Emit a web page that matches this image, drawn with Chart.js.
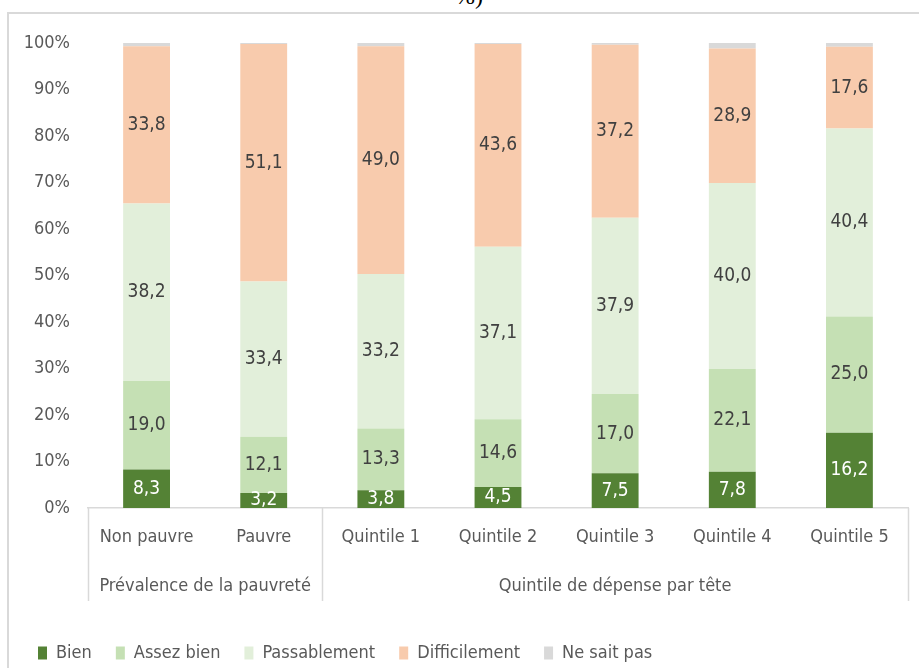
<!DOCTYPE html>
<html>
<head>
<meta charset="utf-8">
<script src="https://cdn.jsdelivr.net/npm/chart.js@4/dist/chart.umd.min.js"></script>
<style>
  html, body { margin: 0; padding: 0; background: #fff; overflow: hidden; }
  #wrap { position: relative; width: 919px; height: 668px; overflow: hidden; }
  #frame { position: absolute; left: 7px; top: 12px; width: 1000px; height: 1000px; border: 2px solid #d9d9d9; box-sizing: border-box; }
  #title { position: absolute; left: 455px; top: -17px; font-family: "Liberation Serif", "Times New Roman", serif; font-size: 24px; color: #000; white-space: nowrap; }
  canvas { position: absolute; left: 0; top: 0; }
</style>
</head>
<body>
<div id="wrap">
  <div id="frame"></div>
  <div id="title">%)</div>
  <canvas id="c" width="919" height="668"></canvas>
</div>
<script>
const categories = ["Non pauvre", "Pauvre", "Quintile 1", "Quintile 2", "Quintile 3", "Quintile 4", "Quintile 5"];
const groupNames = ["Prévalence de la pauvreté", "Quintile de dépense par tête"];
const groupSizes = [2, 5];
const seriesNames = ["Bien", "Assez bien", "Passablement", "Difficilement", "Ne sait pas"];
const bien = [8.3, 3.2, 3.8, 4.5, 7.5, 7.8, 16.2];
const assezBien = [19.0, 12.1, 13.3, 14.6, 17.0, 22.1, 25.0];
const passablement = [38.2, 33.4, 33.2, 37.1, 37.9, 40.0, 40.4];
const difficilement = [33.8, 51.1, 49.0, 43.6, 37.2, 28.9, 17.6];
const neSaitPas = [0.7, 0.2, 0.7, 0.2, 0.4, 1.2, 0.8];
const yTicks = [0, 10, 20, 30, 40, 50, 60, 70, 80, 90, 100];

const colors = ["#548235", "#C5E0B4", "#E2EFDA", "#F8CBAD", "#D9D9D9"];
const FONT = "'DejaVu Sans Condensed', 'Liberation Sans Narrow', sans-serif";
const seriesData = [bien, assezBien, passablement, difficilement, neSaitPas];

const segLabels = {
  id: 'segLabels',
  afterDatasetsDraw(chart) {
    const ctx = chart.ctx;
    ctx.save();
    ctx.font = "19px " + FONT;
    ctx.textAlign = 'center';
    ctx.textBaseline = 'middle';
    for (let d = 0; d < 4; d++) {
      const meta = chart.getDatasetMeta(d);
      meta.data.forEach((el, i) => {
        const v = chart.data.datasets[d].data[i];
        const y = (el.y + el.base) / 2;
        ctx.fillStyle = d === 0 ? '#ffffff' : '#404040';
        ctx.fillText(v.toFixed(1).replace('.', ','), el.x, y);
      });
    }
    ctx.restore();
  }
};

const groupAxis = {
  id: 'groupAxis',
  afterDraw(chart) {
    const ctx = chart.ctx;
    const xs = chart.scales.x;
    const area = chart.chartArea;
    const bottom = area.bottom;
    const lineEnd = bottom + 93;
    const bounds = [area.left];
    let idx = 0;
    groupSizes.forEach((n, g) => {
      idx += n;
      if (g < groupSizes.length - 1) {
        bounds.push((xs.getPixelForValue(idx - 1) + xs.getPixelForValue(idx)) / 2);
      }
    });
    bounds.push(area.right);
    ctx.save();
    ctx.strokeStyle = '#d9d9d9';
    ctx.lineWidth = 1.5;
    bounds.forEach(b => {
      ctx.beginPath();
      ctx.moveTo(Math.round(b) + 0.5, bottom);
      ctx.lineTo(Math.round(b) + 0.5, lineEnd);
      ctx.stroke();
    });
    ctx.font = "18px " + FONT;
    ctx.fillStyle = '#595959';
    ctx.textAlign = 'center';
    ctx.textBaseline = 'middle';
    groupNames.forEach((name, g) => {
      ctx.fillText(name, (bounds[g] + bounds[g + 1]) / 2, bottom + 78);
    });
    ctx.restore();
  }
};

new Chart(document.getElementById('c'), {
  type: 'bar',
  data: {
    labels: categories,
    datasets: seriesNames.map((n, i) => ({
      label: n,
      data: seriesData[i],
      backgroundColor: colors[i],
      borderWidth: 0,
      barPercentage: 0.4,
      categoryPercentage: 1.0
    }))
  },
  options: {
    responsive: false,
    animation: false,
    devicePixelRatio: 1,
    layout: { padding: { top: 43, right: 11, left: 14, bottom: -4 } },
    scales: {
      x: {
        stacked: true,
        grid: { display: false, drawTicks: false },
        border: { display: true, color: '#d9d9d9', width: 1.5 },
        ticks: { color: '#595959', font: { family: FONT, size: 18 }, padding: 19, maxRotation: 0, autoSkip: false },
        afterFit(s) { s.height = 112; }
      },
      y: {
        stacked: true,
        min: 0, max: 100,
        grid: { display: false, drawTicks: false },
        border: { display: false },
        afterBuildTicks(s) { s.ticks = yTicks.map(v => ({ value: v })); },
        ticks: { color: '#595959', font: { family: FONT, size: 18 }, padding: 18, callback: v => v + '%' },
        afterFit(s) { s.width = 74; }
      }
    },
    plugins: {
      title: { display: false },
      tooltip: { enabled: false },
      legend: {
        position: 'bottom',
        align: 'start',
        labels: {
          color: '#595959',
          font: { family: FONT, size: 18 },
          boxWidth: 9,
          boxHeight: 13,
          padding: 24
        }
      }
    }
  },
  plugins: [segLabels, groupAxis]
});
</script>
</body>
</html>
